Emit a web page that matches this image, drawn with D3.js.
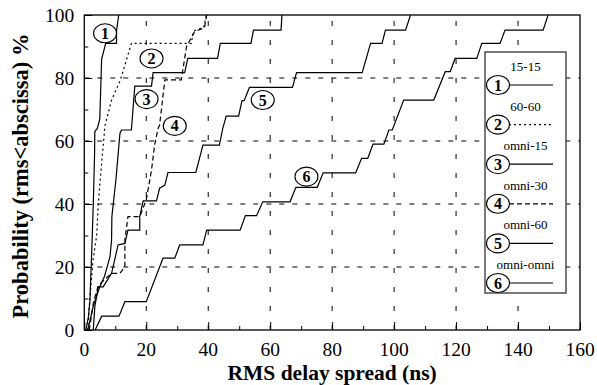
<!DOCTYPE html>
<html>
<head>
<meta charset="utf-8">
<script src="https://cdn.jsdelivr.net/npm/d3@7"></script>
<style>
  body { margin: 0; background: #fff; }
  svg { display: block; font-family: "Liberation Serif", "DejaVu Serif", serif; }
</style>
</head>
<body>
<svg id="chart" width="597" height="385"></svg>
<script>
// x ticks (RMS delay spread, ns) and y ticks (probability %)
const xTickLabels = [0, 20, 40, 60, 80, 100, 120, 140, 160];
const yTickLabels = [0, 20, 40, 60, 80, 100];

// series names, in legend order
const seriesNames = ["15-15", "60-60", "omni-15", "omni-30", "omni-60", "omni-omni"];

const cdf15_15 = [[0.5,0],[1.3,4],[1.8,9],[2.4,25],[2.9,40],[3.3,55],[3.4,63],[4.2,64],[5,67],[5.4,80],[5.6,86],[6.9,91],[10.4,91],[10.4,95],[11.1,100]];
const cdf60_60 = [[1.1,0],[1.8,10],[2.8,22],[4,30],[4.5,40],[5.6,53],[6.7,65],[8.8,73],[11.5,79],[13.4,85],[15.2,91],[34.5,91],[35.3,95],[38.5,96],[39.4,100]];
const cdfOmni15 = [[1.1,0],[3,8],[5,13.7],[6.5,17],[8.3,23.3],[8.8,28.6],[8.9,36],[10.2,47.6],[11.5,62.4],[12,63.5],[15.2,63.5],[16.3,77.4],[21.7,77.4],[22.2,81.7],[32.4,81.7],[33.4,86.2],[43,86.2],[43.9,91],[53.8,91],[54.6,95.2],[63.5,95.2],[63.8,100]];
const cdfOmni30 = [[1.6,0],[3,9],[4.5,14],[6.5,16],[8.8,18],[11.5,18],[13.1,20],[13.1,28.6],[14.1,36],[17.9,36],[20,41.3],[21.7,50.8],[22.7,58.7],[23.8,64],[24.3,65],[26,79.4],[31.3,79.4],[33,90],[35.6,94.7],[38.8,96],[39.5,100]];
const cdfOmni60 = [[2.9,0],[3.4,7.4],[4.5,13.7],[6.1,13.7],[8.8,18],[10.9,27],[13.1,27.5],[14.1,31.7],[17.9,31.7],[17.9,36],[19,41],[23.3,41],[24.3,45],[26,46],[27,50],[36,50],[38.3,58.7],[43.6,58.7],[44.7,64],[45.8,67.9],[49.8,67.9],[50.9,72.8],[51.6,72.8],[53.3,77],[67.2,77],[68.5,81.7],[89.7,81.7],[92.4,91],[96.1,91],[97.2,95.2],[103.7,95.2],[105.3,100]];
const cdfOmniOmni = [[3.5,0],[5.6,4.4],[11.2,4.4],[13.1,9],[20,9],[25.4,22.8],[29.2,22.8],[30.8,27],[38.3,27],[39.5,31.7],[50.3,31.7],[52,36.3],[55.6,36.3],[57.6,40.7],[66.4,40.7],[68.3,45.3],[75.2,45.3],[77.1,49.9],[87.6,49.9],[89.5,54.5],[91.5,54.5],[93.2,59],[96.7,59],[98.3,63.5],[99.4,63.5],[103.1,73],[112.8,73],[116.5,82],[118.1,82],[119.7,86.2],[126.7,86.2],[128.3,91],[134.2,91],[135.8,95.2],[148.1,95.2],[149.7,100]];

// where the numbered tags sit on the plot: [rms, prob]
const tagPositions = [[6.7,94.2],[21.7,86.2],[20.1,73.3],[29.2,64.8],[57.6,73],[71.7,48.7]];

const series = [cdf15_15, cdf60_60, cdfOmni15, cdfOmni30, cdfOmni60, cdfOmniOmni];
const dashes = [null, "2,3", null, "5,3", null, null];

const svg = d3.select("#chart");
const plotLeft = 84.3, plotRight = 580, plotTop = 15, plotBottom = 330;

const x = d3.scaleLinear().domain([0, 160]).range([plotLeft, plotRight]);
const y = d3.scaleLinear().domain([0, 100]).range([plotBottom, plotTop]);

// dashed grid
svg.append("g").selectAll("line")
  .data(xTickLabels.slice(1, -1))
  .enter().append("line")
    .attr("x1", d => x(d)).attr("x2", d => x(d))
    .attr("y1", plotBottom).attr("y2", plotTop)
    .attr("stroke", "#000").attr("stroke-width", 1)
    .attr("stroke-dasharray", "5,14");
svg.append("g").selectAll("line")
  .data(yTickLabels.slice(1, -1))
  .enter().append("line")
    .attr("x1", plotLeft).attr("x2", plotRight)
    .attr("y1", d => y(d)).attr("y2", d => y(d))
    .attr("stroke", "#000").attr("stroke-width", 1)
    .attr("stroke-dasharray", "5,8");

// axes, ticks inside
const xAxis = d3.axisBottom(x).tickValues(d3.range(0, 161, 10))
  .tickSize(-4).tickFormat("");
const gx = svg.append("g").attr("transform", `translate(0,${plotBottom})`).call(xAxis);
gx.selectAll(".tick line").filter(d => d % 20 === 0).attr("y2", -8);
const yAxis = d3.axisLeft(y).tickValues(d3.range(0, 101, 10))
  .tickSize(-4).tickFormat("");
const gy = svg.append("g").attr("transform", `translate(${plotLeft},0)`).call(yAxis);
gy.selectAll(".tick line").filter(d => d % 20 === 0).attr("x2", 8);
svg.selectAll(".domain").remove();

// tick labels
svg.append("g").selectAll("text")
  .data(xTickLabels)
  .enter().append("text")
    .attr("x", d => x(d)).attr("y", 356)
    .attr("text-anchor", "middle")
    .style("font-size", "19.5px")
    .text(d => d);
svg.append("g").selectAll("text")
  .data(yTickLabels)
  .enter().append("text")
    .attr("x", plotLeft - 10).attr("y", d => y(d) + 7)
    .attr("text-anchor", "end")
    .style("font-size", "19.5px")
    .text(d => d);

// frame
svg.append("rect")
  .attr("x", plotLeft).attr("y", plotTop)
  .attr("width", plotRight - plotLeft).attr("height", plotBottom - plotTop)
  .attr("fill", "none").attr("stroke", "#000").attr("stroke-width", 1.3);

// curves
const line = d3.line().x(d => x(d[0])).y(d => y(d[1]));
svg.append("g").selectAll("path")
  .data(series)
  .enter().append("path")
    .attr("d", line)
    .attr("fill", "none")
    .attr("stroke", "#000")
    .attr("stroke-width", 1.2)
    .attr("stroke-dasharray", (d, i) => dashes[i]);

// numbered tags on the plot
function tag(g, cx, cy, n) {
  g.append("ellipse").attr("cx", cx).attr("cy", cy).attr("rx", 11.5).attr("ry", 9.5)
    .attr("fill", "#fff").attr("stroke", "#000").attr("stroke-width", 1.1);
  g.append("text").attr("x", cx).attr("y", cy + 5.5)
    .attr("text-anchor", "middle")
    .style("font-size", "16px").style("font-weight", "bold")
    .text(n);
}
const tags = svg.append("g");
tagPositions.forEach((p, i) => tag(tags, x(p[0]), y(p[1]), i + 1));

// legend
const lg = svg.append("g");
lg.append("rect").attr("x", 485).attr("y", 52).attr("width", 81).attr("height", 241)
  .attr("fill", "#fff").attr("stroke", "#333").attr("stroke-width", 1.3);
seriesNames.forEach((name, i) => {
  const cy = 85 + i * 39.6;
  lg.append("text").attr("x", 525.5).attr("y", cy - 14)
    .attr("text-anchor", "middle").style("font-size", "13px")
    .text(name);
  lg.append("line").attr("x1", 509).attr("x2", 553).attr("y1", cy).attr("y2", cy)
    .attr("stroke", "#000").attr("stroke-width", 1.2)
    .attr("stroke-dasharray", dashes[i]);
  tag(lg, 498, cy, i + 1);
});

// axis titles
svg.append("text")
  .attr("x", (plotLeft + plotRight) / 2).attr("y", 380)
  .attr("text-anchor", "middle")
  .style("font-size", "21.5px").style("font-weight", "bold")
  .text("RMS delay spread (ns)");
svg.append("text")
  .attr("transform", `translate(28,176) rotate(-90)`)
  .attr("text-anchor", "middle")
  .style("font-size", "22.5px").style("font-weight", "bold")
  .text("Probability (rms<abscissa) %");
</script>
</body>
</html>
